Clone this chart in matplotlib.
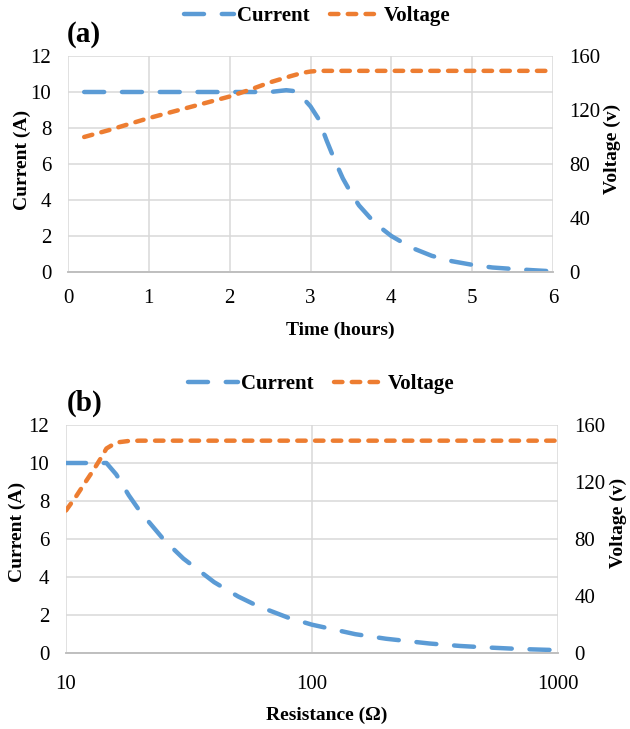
import matplotlib
matplotlib.use("Agg")
import matplotlib.pyplot as plt
from matplotlib.ticker import FixedLocator, NullLocator, FixedFormatter

# ---- Data: panel (a) ----
time_current = [0.2, 2.5, 2.7, 2.8, 2.9, 3.0, 3.1, 3.2, 3.3, 3.4, 3.5, 3.6, 3.8, 4.0,
                 4.25, 4.5, 4.75, 5.0, 5.25, 5.5, 5.75, 5.95]
current_a = [10, 10, 10.1, 10.05, 9.7, 9.2, 8.5, 7.3, 6.2, 5.2, 4.4, 3.7, 2.7, 2.0,
             1.35, 0.9, 0.6, 0.4, 0.25, 0.17, 0.1, 0.05]
time_voltage = [0.2, 0.5, 1.0, 1.5, 2.0, 2.25, 2.5, 2.75, 2.9, 3.0, 3.1, 5.95]
voltage_a = [100, 105, 114, 122, 130, 135, 140.5, 145, 147.5, 148.5, 149, 149]

# ---- Data: panel (b) ----
resistance = [10, 11, 12, 13, 14, 14.6, 16, 18, 20, 25, 30, 40, 50, 60, 80, 100,
              150, 200, 300, 400, 500, 700, 1000]
current_b = [10, 10, 10, 10, 10, 10, 9.4, 8.3, 7.45, 5.96, 4.97, 3.73, 2.98, 2.48,
             1.86, 1.49, 0.99, 0.75, 0.5, 0.37, 0.3, 0.21, 0.15]
voltage_b = [100, 110, 120, 129, 138, 143.5, 147.7, 148.8, 149, 149, 149, 149, 149, 149,
             149, 149, 149, 149, 149, 149, 149, 149, 149]

left_ticks = [0, 2, 4, 6, 8, 10, 12]
right_ticks = [0, 40, 80, 120, 160]
time_ticks = [0, 1, 2, 3, 4, 5, 6]
res_ticks = [10, 100, 1000]
res_tick_labels = ["10", "100", "1000"]

BLUE = "#5B9BD5"
ORANGE = "#ED7D31"
GRID = "#D9D9D9"
SERIF = ["Liberation Serif", "DejaVu Serif"]

plt.rcParams["font.family"] = SERIF

fig = plt.figure(figsize=(6.3, 7.29), dpi=100)

ax_a = fig.add_axes([68/630, 1-272/729, (553-68)/630, (272-56)/729])
ax_b = fig.add_axes([66/630, 1-653/729, (558-66)/630, (653-425)/729])

def style(ax, ax2):
    for a in (ax, ax2):
        for s in ["top", "left", "right"]:
            a.spines[s].set_visible(False)
        a.spines["bottom"].set_color("#BFBFBF")
        a.spines["bottom"].set_linewidth(1.2)
        a.tick_params(length=0, labelsize=15, pad=12)
    ax.set_ylim(0, 12)
    ax.yaxis.set_major_locator(FixedLocator(left_ticks))
    ax2.set_ylim(0, 160)
    ax2.yaxis.set_major_locator(FixedLocator(right_ticks))
    ax.grid(True, color=GRID, linewidth=1.1)
    ax.set_axisbelow(True)

cur_kw = dict(color=BLUE, linewidth=3.2, dashes=(4.5, 4.0), dash_capstyle="round")
vol_kw = dict(color=ORANGE, linewidth=3.2, dashes=(1.9, 2.1), dash_capstyle="round")

LBL = 14

# Panel (a)
ax_a2 = ax_a.twinx()
ax_a.set_xlim(0, 6)
ax_a.xaxis.set_major_locator(FixedLocator(time_ticks))
style(ax_a, ax_a2)
l1, = ax_a.plot(time_current, current_a, label="Current", **cur_kw)
l2, = ax_a2.plot(time_voltage, voltage_a, label="Voltage", **vol_kw)
ax_a.set_ylabel("Current (A)", fontsize=LBL, fontweight="bold")
ax_a.yaxis.set_label_coords(-0.076, 0.52)
ax_a2.set_ylabel("Voltage (v)", fontsize=LBL, fontweight="bold", rotation=90)
ax_a2.yaxis.set_label_coords(1.105, 0.57)
fig.text(340/630, 1-330/729, "Time (hours)", fontsize=LBL, fontweight="bold",
         ha="center", va="center")
fig.text(84/630, 1-34/729, "(a)", fontsize=21, fontweight="bold", ha="center", va="center")
fig.legend(handles=[l1, l2], loc="center", bbox_to_anchor=(317/630, 1-16/729),
           ncol=2, frameon=False, handlelength=2.4, handletextpad=0.15,
           columnspacing=1.0, prop=dict(family=SERIF, weight="bold", size=15))

# Panel (b)
ax_b2 = ax_b.twinx()
ax_b.set_xscale("log")
ax_b.set_xlim(10, 1000)
ax_b.xaxis.set_major_locator(FixedLocator(res_ticks))
ax_b.xaxis.set_major_formatter(FixedFormatter(res_tick_labels))
ax_b.xaxis.set_minor_locator(NullLocator())
style(ax_b, ax_b2)
ax_b.tick_params(axis="x", pad=16)
l3, = ax_b.plot(resistance, current_b, label="Current", **cur_kw)
l4, = ax_b2.plot(resistance, voltage_b, label="Voltage", **vol_kw)
ax_b.set_ylabel("Current (A)", fontsize=LBL, fontweight="bold")
ax_b.yaxis.set_label_coords(-0.081, 0.53)
ax_b2.set_ylabel("Voltage (v)", fontsize=LBL, fontweight="bold", rotation=90)
ax_b2.yaxis.set_label_coords(1.105, 0.57)
fig.text(327/630, 1-715/729, "Resistance (Ω)", fontsize=LBL, fontweight="bold",
         ha="center", va="center")
fig.text(85/630, 1-403/729, "(b)", fontsize=21, fontweight="bold", ha="center", va="center")
fig.legend(handles=[l3, l4], loc="center", bbox_to_anchor=(321/630, 1-384/729),
           ncol=2, frameon=False, handlelength=2.4, handletextpad=0.15,
           columnspacing=1.0, prop=dict(family=SERIF, weight="bold", size=15))

fig.savefig("out.png", dpi=100, facecolor="white")
